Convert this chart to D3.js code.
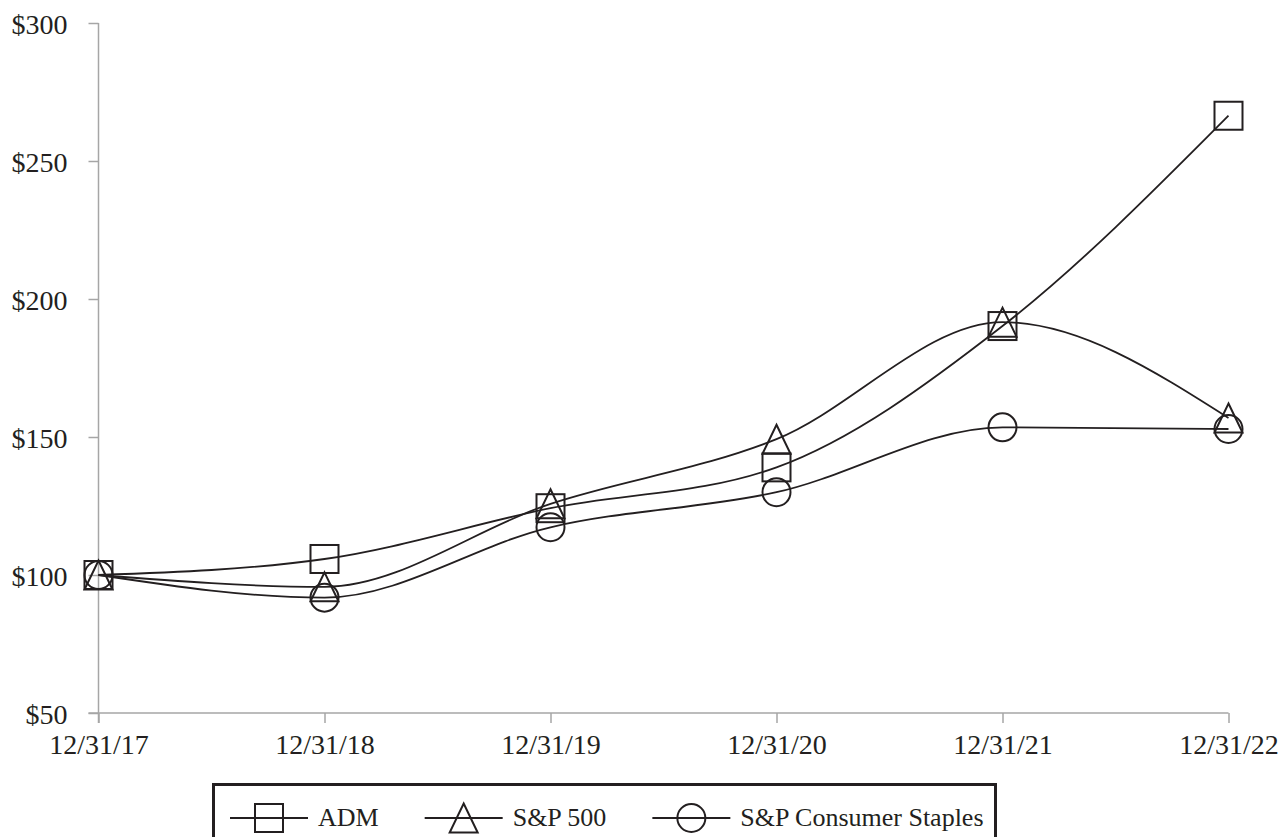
<!DOCTYPE html>
<html>
<head>
<meta charset="utf-8">
<script src="https://cdn.jsdelivr.net/npm/d3@7"></script>
<style>
  html, body { margin: 0; padding: 0; background: #fff; }
  svg { display: block; }
  text { font-family: "Liberation Serif", "Times New Roman", serif; fill: #231f20; }
</style>
</head>
<body>
<div id="chart"></div>
<script>
// Cumulative total return chart, $100 invested 12/31/17

const dates = ['12/31/17', '12/31/18', '12/31/19', '12/31/20', '12/31/21', '12/31/22'];
const admValues = [100, 105.8, 124.2, 139.0, 190.2, 266.4];
const sp500Values = [100, 95.7, 125.8, 149.2, 191.6, 156.9];
const staplesValues = [100, 91.8, 117.3, 130.0, 153.5, 152.9];
const yTicks = [50, 100, 150, 200, 250, 300];

const seriesNames = ['ADM', 'S&P 500', 'S&P Consumer Staples'];
const seriesShapes = ['square', 'triangle', 'circle'];

function createLineChart() {
    const width = 1281;
    const height = 837;
    const ink = '#231f20';
    const axisGrey = '#a6a6a6';

    const svg = d3.select('#chart').append('svg')
        .attr('width', width)
        .attr('height', height);

    // Scales
    const x = d3.scalePoint()
        .domain(dates)
        .range([98.5, 1228.5]);

    const y = d3.scaleLinear()
        .domain([50, 300])
        .range([713, 23]);

    // Y axis
    const yAxis = svg.append('g')
        .attr('transform', `translate(${x(dates[0])},0)`)
        .call(d3.axisLeft(y)
            .tickValues(yTicks)
            .tickSize(10)
            .tickSizeOuter(0)
            .tickPadding(21)
            .tickFormat(d => '$' + d));
    yAxis.select('.domain').remove();
    yAxis.selectAll('line').attr('stroke', axisGrey).attr('stroke-width', 1.5);
    yAxis.selectAll('text')
        .attr('dy', '0.38em')
        .style('font-size', '28px')
        .style('font-family', '"Liberation Serif", serif')
        .attr('fill', ink);

    // X axis
    const xAxis = svg.append('g')
        .attr('transform', `translate(0,${y(50)})`)
        .call(d3.axisBottom(x)
            .tickSize(10)
            .tickSizeOuter(0)
            .tickPadding(11));
    xAxis.select('.domain').remove();
    xAxis.selectAll('line').attr('stroke', axisGrey).attr('stroke-width', 1.5);
    xAxis.selectAll('text')
        .style('font-size', '28px')
        .style('font-family', '"Liberation Serif", serif')
        .attr('fill', ink);

    // Axis lines
    svg.append('line')
        .attr('x1', x(dates[0])).attr('x2', x(dates[0]))
        .attr('y1', y(300)).attr('y2', y(50) + 10)
        .attr('stroke', axisGrey).attr('stroke-width', 1.5);
    svg.append('line')
        .attr('x1', x(dates[0]) - 10).attr('x2', x(dates[dates.length - 1]))
        .attr('y1', y(50)).attr('y2', y(50))
        .attr('stroke', axisGrey).attr('stroke-width', 1.5);

    // Marker shapes
    function drawMarker(g, shape, cx, cy) {
        const s = 14;
        if (shape === 'square') {
            g.append('rect')
                .attr('x', cx - s).attr('y', cy - s)
                .attr('width', 2 * s).attr('height', 2 * s);
        } else if (shape === 'triangle') {
            g.append('path')
                .attr('d', `M${cx},${cy - 14.5}L${cx + s},${cy + 14.5}L${cx - s},${cy + 14.5}Z`);
        } else {
            g.append('circle')
                .attr('cx', cx).attr('cy', cy).attr('r', s);
        }
    }

    const series = [admValues, sp500Values, staplesValues];

    const line = d3.line()
        .x((d, i) => x(dates[i]))
        .y(d => y(d))
        .curve(d3.curveMonotoneX);

    // Lines
    series.forEach(values => {
        svg.append('path')
            .datum(values)
            .attr('d', line)
            .attr('fill', 'none')
            .attr('stroke', ink)
            .attr('stroke-width', 1.8);
    });

    // Markers
    series.forEach((values, si) => {
        const g = svg.append('g')
            .attr('fill', 'none')
            .attr('stroke', ink)
            .attr('stroke-width', 2);
        values.forEach((v, i) => drawMarker(g, seriesShapes[si], x(dates[i]), y(v)));
    });

    // Legend
    const legend = svg.append('g').attr('class', 'legend');
    legend.append('rect')
        .attr('x', 213.5).attr('y', 784.5)
        .attr('width', 782).attr('height', 90)
        .attr('fill', 'none')
        .attr('stroke', ink)
        .attr('stroke-width', 3);

    let lx = 230;
    const ly = 818;
    seriesNames.forEach((name, i) => {
        legend.append('line')
            .attr('x1', lx).attr('x2', lx + 78)
            .attr('y1', ly).attr('y2', ly)
            .attr('stroke', ink).attr('stroke-width', 1.8);
        const mg = legend.append('g')
            .attr('fill', 'none')
            .attr('stroke', ink)
            .attr('stroke-width', 2);
        drawMarker(mg, seriesShapes[i], lx + 39, ly);
        const t = legend.append('text')
            .attr('x', lx + 88)
            .attr('y', ly + 8)
            .style('font-size', '26px')
            .text(name);
        lx = lx + 88 + t.node().getComputedTextLength() + 46;
    });
}

createLineChart();
</script>
</body>
</html>
